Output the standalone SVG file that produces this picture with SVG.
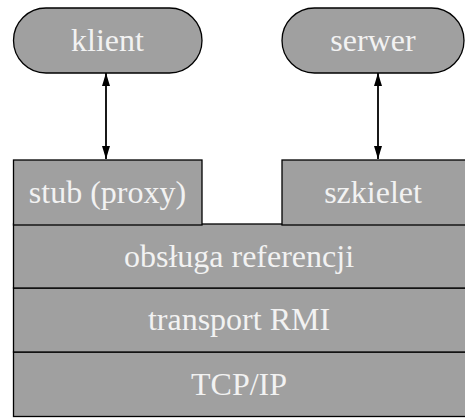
<svg xmlns="http://www.w3.org/2000/svg" width="465" height="418" viewBox="0 0 465 418">
<style>
.n{fill:#a0a0a0;stroke:#000;stroke-width:1.3}
.t{font-family:'Liberation Serif','Times New Roman','DejaVu Serif',serif;font-size:32px;fill:#f2f2f2;text-anchor:middle}
.c{stroke:#000;stroke-width:1.8;fill:none}
</style>
<defs>
<marker id="ah" viewBox="0 0 13 8" refX="13" refY="4" markerWidth="13" markerHeight="8" markerUnits="userSpaceOnUse" orient="auto-start-reverse">
<path d="M0,0 L13,4 L0,8 Z" fill="#000"/>
</marker>
</defs>
<rect width="465" height="418" fill="#fff"/>
<g id="tcpip"><rect class="n" x="13.5" y="352" width="460" height="64.5"/><text class="t" x="239" y="395">TCP/IP</text></g>
<g id="transport"><rect class="n" x="13.5" y="288" width="460" height="64"/><text class="t" x="239" y="330">transport RMI</text></g>
<g id="obsluga"><rect class="n" x="13.5" y="224" width="460" height="64"/><text class="t" x="239" y="267">obsługa referencji</text></g>
<g id="stub"><rect class="n" x="13.5" y="160" width="188.5" height="65"/><text class="t" x="107.5" y="203">stub (proxy)</text></g>
<g id="szkielet"><rect class="n" x="282" y="160" width="190" height="65"/><text class="t" x="373" y="203">szkielet</text></g>
<g id="klient"><rect class="n" x="13.5" y="8" width="188.5" height="65" rx="32.5" stroke-width="1"/><text class="t" x="107.5" y="51">klient</text></g>
<g id="serwer"><rect class="n" x="282" y="8" width="182" height="65" rx="32.5" stroke-width="1"/><text class="t" x="373" y="51">serwer</text></g>
<g id="connectors">
<line class="c" x1="106" y1="73" x2="106" y2="159" marker-start="url(#ah)" marker-end="url(#ah)"/>
<line class="c" x1="378" y1="73" x2="378" y2="159" marker-start="url(#ah)" marker-end="url(#ah)"/>
</g>
</svg>
